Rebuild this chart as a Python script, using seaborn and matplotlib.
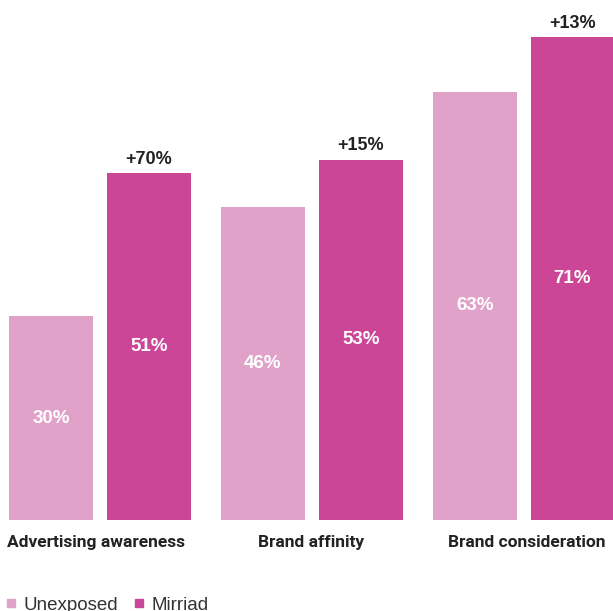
import matplotlib
matplotlib.use("Agg")
import matplotlib.pyplot as plt
from matplotlib.lines import Line2D
import seaborn as sns
import pandas as pd

categories = ["Advertising awareness", "Brand affinity", "Brand consideration"]
groups = ["Unexposed", "Mirriad"]
unexposed = [30, 46, 63]
mirriad = [51, 53, 71]
lifts = ["+70%", "+15%", "+13%"]
colors = ["#E0A2C9", "#CB4697"]

df = pd.DataFrame({
    "metric": categories * 2,
    "group": [groups[0]] * 3 + [groups[1]] * 3,
    "value": unexposed + mirriad,
})

sns.set_theme(style="white")
plt.rcParams["font.family"] = ["Liberation Sans", "DejaVu Sans"]

W, H = 613, 611
fig = plt.figure(figsize=(W / 100, H / 100), dpi=100)
ax = fig.add_axes([0, 91 / H, 1, 520 / H])

sns.barplot(data=df, x="metric", y="value", hue="group", hue_order=groups,
            palette=colors, width=0.925, gap=0.144, ax=ax, legend=False,
            saturation=1, errorbar=None, linewidth=0)

ax.set_xlim(-0.472, 2.420)
ax.set_ylim(0, 76.5)
ax.axis("off")

for cont in ax.containers:
    ax.bar_label(cont, labels=[f"{v:.0f}%" for v in cont.datavalues],
                 label_type="center", color="white", fontsize=13.5,
                 fontweight="bold")
ax.bar_label(ax.containers[1], labels=lifts, padding=4, color="#222222",
             fontsize=13, fontweight="bold")

# category labels below groups
label_shift = [-0.02, -0.005, 0.014]
for i, c in enumerate(categories):
    ax.text(i + label_shift[i], -23 / 6.8, c, ha="center", va="center",
            fontsize=12.5, fontweight="bold", color="#222222",
            family=["Roboto", "DejaVu Sans"], clip_on=False)

handles = [Line2D([0], [0], marker="s", linestyle="none", markersize=5.5,
                  markerfacecolor=col, markeredgecolor=col) for col in colors]
fig.legend(handles, groups, loc="center left", bbox_to_anchor=(0.004, 6 / H),
           ncol=2, frameon=False, fontsize=13.5, handlelength=0.5,
           handletextpad=0.4, columnspacing=0.9, borderaxespad=0,
           borderpad=0.2, labelcolor="#333333")

fig.savefig("out.png", dpi=100)
